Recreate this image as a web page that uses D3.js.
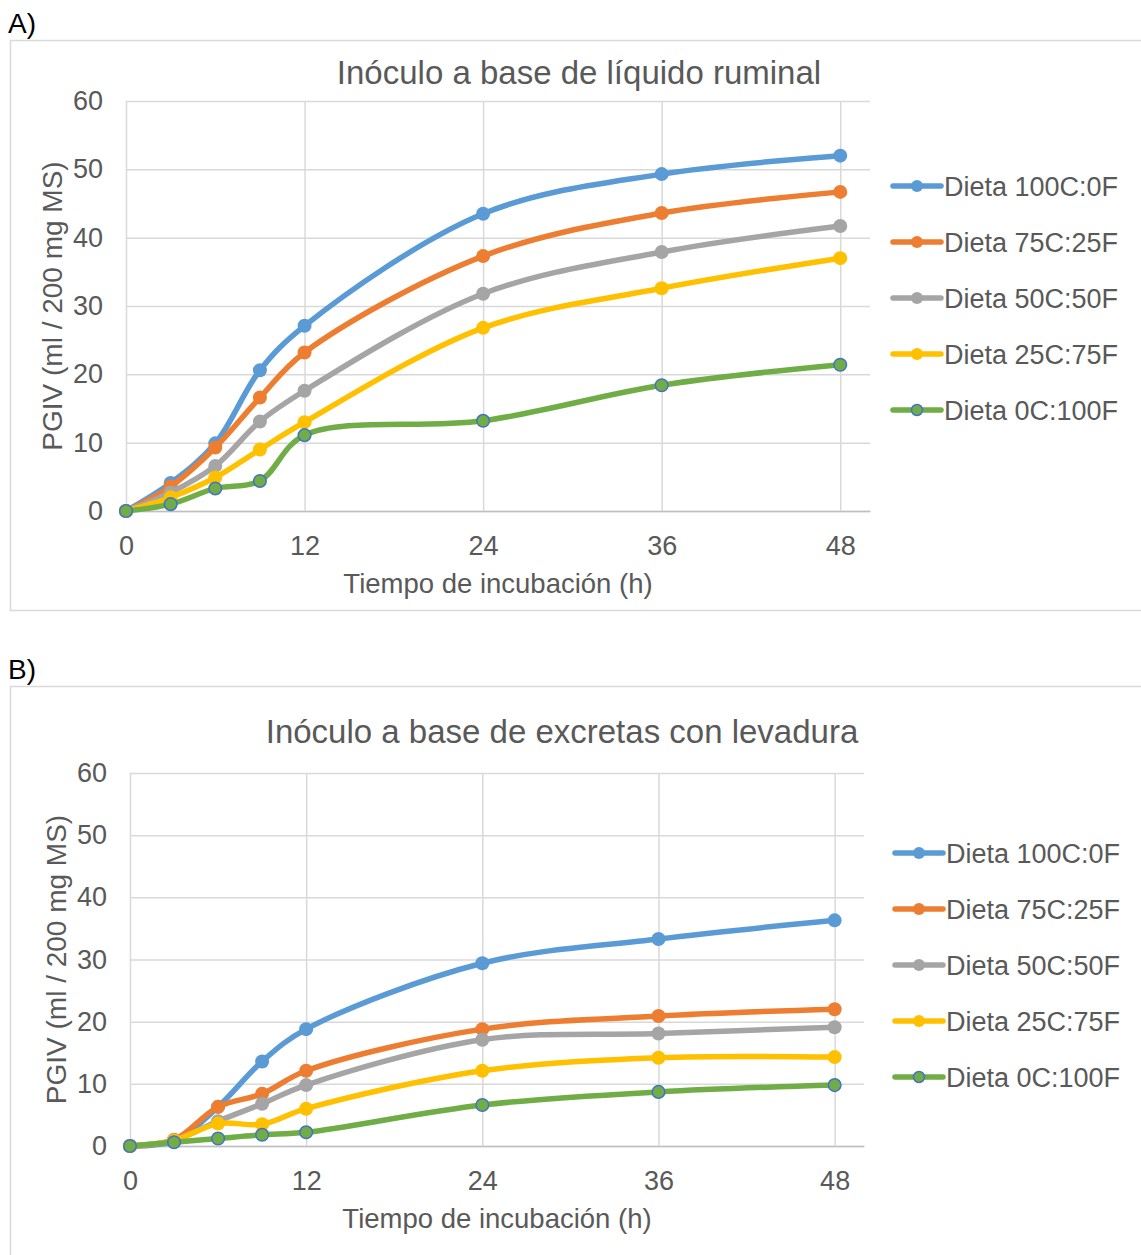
<!DOCTYPE html>
<html>
  <head>
    <meta charset="utf-8">
    <style>
      body {
        margin: 0;
        background: #fff;
        font-family: "Liberation Sans", Arial, Helvetica, sans-serif;
      }
      .panel-label { font-size: 28px; fill: #000; }
      .chart-title { font-size: 33px; fill: #595959; text-anchor: middle; }
      .axis-title { font-size: 27.5px; fill: #595959; text-anchor: middle; }
      .y-title { font-size: 28px; }
      .legend-text { font-size: 27px; fill: #595959; }
      .tick text { font-size: 27px; fill: #595959; font-family: "Liberation Sans", Arial, sans-serif; }
      .tick line { stroke: #d9d9d9; stroke-width: 1.5; }
      .x-axis .domain { stroke: #bfbfbf; stroke-width: 1.5; }
    </style>
  </head>
  <body>
    <script src="https://d3js.org/d3.v7.min.js"></script>
    <script>
      // data
      const times = [0, 3, 6, 9, 12, 24, 36, 48];
      const seriesNames = ['Dieta 100C:0F', 'Dieta 75C:25F', 'Dieta 50C:50F', 'Dieta 25C:75F', 'Dieta 0C:100F'];
      const xTicks = [0, 12, 24, 36, 48];
      const yTicks = [0, 10, 20, 30, 40, 50, 60];

      // A) rumen liquor inoculum
      const ruminal100 = [0, 4.1, 9.9, 20.6, 27.1, 43.5, 49.3, 52.0];
      const ruminal75 = [0, 3.6, 9.3, 16.6, 23.2, 37.3, 43.6, 46.7];
      const ruminal50 = [0, 2.7, 6.6, 13.1, 17.6, 31.8, 37.9, 41.7];
      const ruminal25 = [0, 2.0, 4.9, 9.0, 13.0, 26.8, 32.6, 37.0];
      const ruminal0 = [0, 1.0, 3.3, 4.4, 11.1, 13.2, 18.4, 21.4];

      // B) excreta + yeast inoculum
      const excretas100 = [0, 0.8, 6.3, 13.6, 18.8, 29.4, 33.3, 36.3];
      const excretas75 = [0, 1.0, 6.3, 8.4, 12.1, 18.8, 20.9, 22.0];
      const excretas50 = [0, 0.9, 4.0, 6.8, 9.8, 17.1, 18.1, 19.1];
      const excretas25 = [0, 0.9, 3.6, 3.5, 6.0, 12.1, 14.2, 14.3];
      const excretas0 = [0, 0.6, 1.2, 1.8, 2.2, 6.6, 8.7, 9.8];

      const colors = ['#5B9BD5', '#ED7D31', '#A5A5A5', '#FFC000', '#70AD47'];

      const panels = [
        {
          label: 'A)', title: 'Inóculo a base de líquido ruminal',
          series: [ruminal100, ruminal75, ruminal50, ruminal25, ruminal0],
          frameTop: 40, left: 126, right: 870, top: 101, bottom: 511,
          titleX: 579, titleY: 84, legendX: 893, legendY: 186
        },
        {
          label: 'B)', title: 'Inóculo a base de excretas con levadura',
          series: [excretas100, excretas75, excretas50, excretas25, excretas0],
          frameTop: 686, left: 130, right: 864, top: 773, bottom: 1146,
          titleX: 562, titleY: 743, legendX: 895, legendY: 853
        }
      ];

      const W = 1141, H = 1255;
      const svg = d3.select('body').append('svg')
        .attr('width', W)
        .attr('height', H);

      panels.forEach(p => {
        const g = svg.append('g');

        g.append('text')
          .attr('class', 'panel-label')
          .attr('x', 8)
          .attr('y', p.frameTop - 7)
          .text(p.label);

        g.append('rect')
          .attr('x', 10.5)
          .attr('y', p.frameTop + 0.5)
          .attr('width', W)
          .attr('height', 570)
          .attr('fill', 'none')
          .attr('stroke', '#d9d9d9')
          .attr('stroke-width', 1.5);

        g.append('text')
          .attr('class', 'chart-title')
          .attr('x', p.titleX)
          .attr('y', p.titleY)
          .text(p.title);

        const x = d3.scaleLinear().domain([0, 50]).range([p.left, p.right]);
        const y = d3.scaleLinear().domain([0, 60]).range([p.bottom, p.top]);

        // horizontal gridlines + y labels
        g.append('g')
          .attr('class', 'y-axis')
          .attr('transform', `translate(${p.left},0)`)
          .call(d3.axisLeft(y).tickValues(yTicks).tickSize(-(p.right - p.left)).tickPadding(23))
          .call(a => a.select('.domain').remove());

        // vertical gridlines + x labels
        g.append('g')
          .attr('class', 'x-axis')
          .attr('transform', `translate(0,${p.bottom})`)
          .call(d3.axisBottom(x).tickValues(xTicks).tickSize(-(p.bottom - p.top)).tickSizeOuter(0).tickPadding(25));

        g.append('text')
          .attr('class', 'axis-title')
          .attr('x', (p.left + p.right) / 2)
          .attr('y', p.bottom + 82)
          .text('Tiempo de incubación (h)');

        g.append('text')
          .attr('class', 'axis-title y-title')
          .attr('transform', `translate(${p.left - 64},${(p.top + p.bottom) / 2}) rotate(-90)`)
          .text('PGIV (ml / 200 mg MS)');

        const line = d3.line()
          .x((d, i) => x(times[i]))
          .y(d => y(d))
          .curve(d3.curveCatmullRom.alpha(0.5));

        p.series.forEach((vals, si) => {
          const sg = g.append('g');
          sg.append('path')
            .attr('d', line(vals))
            .attr('fill', 'none')
            .attr('stroke', colors[si])
            .attr('stroke-width', 5.5)
            .attr('stroke-linejoin', 'round')
            .attr('stroke-linecap', 'round');
          sg.selectAll('circle')
            .data(vals)
            .join('circle')
            .attr('cx', (d, i) => x(times[i]))
            .attr('cy', d => y(d))
            .attr('r', si === 4 ? 6.3 : 7)
            .attr('fill', colors[si])
            .attr('stroke', si === 4 ? '#4472C4' : colors[si])
            .attr('stroke-width', si === 4 ? 1.5 : 0);
        });

        // legend
        const lg = g.append('g')
          .selectAll('g')
          .data(seriesNames)
          .join('g')
          .attr('transform', (d, i) => `translate(${p.legendX},${p.legendY + i * 56})`);
        lg.append('line')
          .attr('x1', 0).attr('x2', 48)
          .attr('stroke', (d, i) => colors[i])
          .attr('stroke-width', 5.5)
          .attr('stroke-linecap', 'round');
        lg.append('circle')
          .attr('cx', 24)
          .attr('r', (d, i) => i === 4 ? 5.5 : 6)
          .attr('fill', (d, i) => colors[i])
          .attr('stroke', (d, i) => i === 4 ? '#4472C4' : 'none')
          .attr('stroke-width', 1.5);
        lg.append('text')
          .attr('class', 'legend-text')
          .attr('x', 51)
          .attr('dy', '0.36em')
          .text(d => d);
      });
    </script>
  </body>
</html>
